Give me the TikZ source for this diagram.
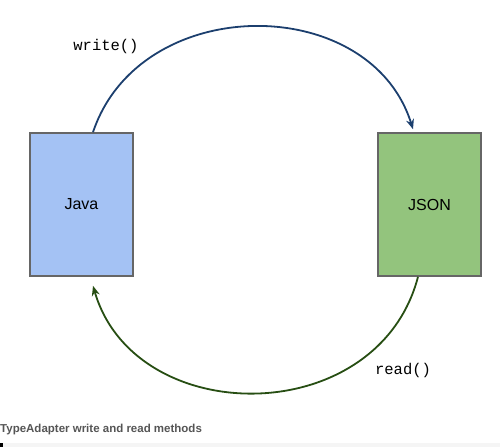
\documentclass[tikz,border=0pt]{standalone}
\usepackage{fontspec}
\setmainfont{Liberation Sans}
\setmonofont{Liberation Mono}
\usetikzlibrary{arrows.meta,positioning}
\definecolor{javafill}{HTML}{A4C2F4}
\definecolor{jsonfill}{HTML}{93C47D}
\definecolor{boxline}{HTML}{666666}
\definecolor{writeline}{HTML}{1C3F6E}
\definecolor{readline}{HTML}{274E13}
\definecolor{captext}{HTML}{555555}

\begin{document}
\begin{tikzpicture}[x=1pt, y=-1pt,
    box/.style={draw=boxline, line width=1.6pt, minimum width=103pt, minimum height=143pt, font=\fontsize{16}{19}\selectfont},
    call/.style={font=\ttfamily\fontsize{15.5}{18}\selectfont},
    flow/.style={line width=1.8pt, -{Stealth[length=10pt,width=8pt]}}]
    \useasboundingbox (0,0) rectangle (500,447);
    \node[box, fill=javafill] (java) at (81.5,204.5) {Java};
    \node[box, fill=jsonfill] (json) at (429.5,204.5) {JSON};
    \node[call] (write) at (106,46) {write()};
    \node[call] (read) at (403,370) {read()};

    \draw[flow, writeline] ([xshift=11.5pt]java.north) .. controls (140,-8) and (370,-8) .. ([xshift=-16.5pt,yshift=3pt]json.north);
    \draw[flow, readline] ([xshift=-11.5pt]json.south) .. controls (378,430) and (135,430) .. ([xshift=11.5pt,yshift=-9pt]java.south);

    % caption and strip
    \node[anchor=base west, inner sep=0pt, text=captext, font=\bfseries\fontsize{11.5}{13}\selectfont] (caption) at (0,432) {TypeAdapter write and read methods};
    \fill[gray!8] (3,443) rectangle (500,447);
    \fill[black] (0,443) rectangle (3,447);
\end{tikzpicture}
\end{document}
